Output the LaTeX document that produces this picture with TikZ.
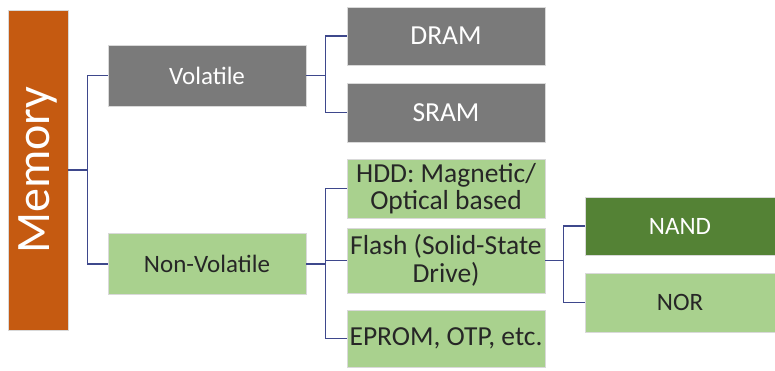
\documentclass[tikz,border=0pt]{standalone}
\usepackage{fontspec}
\setmainfont{Carlito}
\definecolor{memorange}{RGB}{197,90,17}
\definecolor{boxgray}{RGB}{122,122,122}
\definecolor{lightgreen}{RGB}{169,209,142}
\definecolor{darkgreen}{RGB}{84,130,53}
\definecolor{linkblue}{RGB}{62,72,140}
\begin{document}
\begin{tikzpicture}[x=1pt,y=-1pt,
  box/.style={rectangle, inner sep=0pt, minimum width=198pt, align=center,
    font=\fontsize{25}{27}\selectfont, draw=white!85!black, line width=0.8pt},
  bigtext/.style={font=\fontsize{27.5}{27.5}\selectfont},
  graybox/.style={box, fill=boxgray, text=white},
  greenbox/.style={box, fill=lightgreen, text=black!85},
  dgreenbox/.style={box, fill=darkgreen, text=white},
  link/.style={draw=linkblue, line width=1.2pt}]
\useasboundingbox (0,0) rectangle (775,371);
% root
\node[rectangle, fill=memorange, draw=white!85!black, line width=0.8pt,
  minimum width=60pt, minimum height=320pt, inner sep=0pt] (mem) at (38,170) {};
\node[rotate=90, text=white, font=\fontsize{48}{50}\selectfont] (memtxt) at (38,170) {Memory};
% level 1
\node[graybox, minimum height=61pt] (vol) at (207,75.5) {Volatile};
\node[greenbox, minimum height=61pt] (nvol) at (207,264) {Non-Volatile};
% level 2
\node[graybox, bigtext, minimum height=58pt] (dram) at (446,36) {DRAM};
\node[graybox, bigtext, minimum height=59pt] (sram) at (446,112.5) {SRAM};
\node[greenbox, bigtext, minimum height=59pt] (hdd) at (446,188.5) {HDD: Magnetic/\\Optical based};
\node[greenbox, bigtext, minimum height=65pt] (flash) at (446,260.5) {Flash (Solid-State\\Drive)};
\node[greenbox, bigtext, minimum height=57pt] (eprom) at (446,338.5) {EPROM, OTP, etc.};
% level 3
\node[dgreenbox, minimum width=190pt, minimum height=58pt] (nand) at (680,226) {NAND};
\node[greenbox, minimum width=190pt, minimum height=59pt] (nor) at (680,302.5) {NOR};
% connectors
\draw[link] (mem.east) -- ++(19,0) |- (vol.west);
\draw[link] (mem.east) -- ++(19,0) |- (nvol.west);
\draw[link] (vol.east) -- ++(19,0) |- (dram.west);
\draw[link] (vol.east) -- ++(19,0) |- (sram.west);
\draw[link] (nvol.east) -- ++(19,0) |- (hdd.west);
\draw[link] (nvol.east) -- ++(19,0) |- (flash.west);
\draw[link] (nvol.east) -- ++(19,0) |- (eprom.west);
\draw[link] (flash.east) -- ++(18,0) |- (nand.west);
\draw[link] (flash.east) -- ++(18,0) |- (nor.west);
\end{tikzpicture}
\end{document}
